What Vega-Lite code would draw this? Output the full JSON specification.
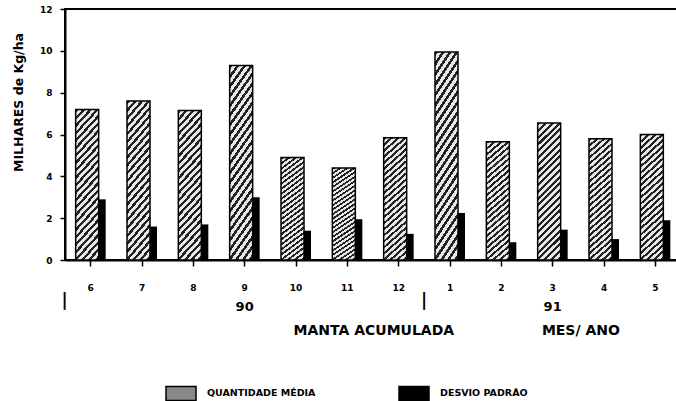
{
  "$schema": "https://vega.github.io/schema/vega-lite/v6.json",
  "width": 616,
  "height": 251,
  "autosize": {"type": "none"},
  "padding": {"left": 65, "top": 9, "right": 0, "bottom": 141},
  "background": "white",
  "config": {
    "view": {"stroke": "black", "strokeWidth": 2},
    "font": "DejaVu Sans",
    "axis": {"domainColor": "black", "tickColor": "black", "labelColor": "black", "titleColor": "black", "grid": false}
  },
  "data": {
    "values": [
      {"mes": "6", "serie": "QUANTIDADE MÉDIA", "valor": 7.2},
      {"mes": "7", "serie": "QUANTIDADE MÉDIA", "valor": 7.6},
      {"mes": "8", "serie": "QUANTIDADE MÉDIA", "valor": 7.15},
      {"mes": "9", "serie": "QUANTIDADE MÉDIA", "valor": 9.3},
      {"mes": "10", "serie": "QUANTIDADE MÉDIA", "valor": 4.9},
      {"mes": "11", "serie": "QUANTIDADE MÉDIA", "valor": 4.4},
      {"mes": "12", "serie": "QUANTIDADE MÉDIA", "valor": 5.85},
      {"mes": "1", "serie": "QUANTIDADE MÉDIA", "valor": 9.95},
      {"mes": "2", "serie": "QUANTIDADE MÉDIA", "valor": 5.65},
      {"mes": "3", "serie": "QUANTIDADE MÉDIA", "valor": 6.55},
      {"mes": "4", "serie": "QUANTIDADE MÉDIA", "valor": 5.8},
      {"mes": "5", "serie": "QUANTIDADE MÉDIA", "valor": 6.0},
      {"mes": "6", "serie": "DESVIO PADRÃO", "valor": 2.9},
      {"mes": "7", "serie": "DESVIO PADRÃO", "valor": 1.6},
      {"mes": "8", "serie": "DESVIO PADRÃO", "valor": 1.7},
      {"mes": "9", "serie": "DESVIO PADRÃO", "valor": 3.0},
      {"mes": "10", "serie": "DESVIO PADRÃO", "valor": 1.4},
      {"mes": "11", "serie": "DESVIO PADRÃO", "valor": 1.95},
      {"mes": "12", "serie": "DESVIO PADRÃO", "valor": 1.25},
      {"mes": "1", "serie": "DESVIO PADRÃO", "valor": 2.25},
      {"mes": "2", "serie": "DESVIO PADRÃO", "valor": 0.85},
      {"mes": "3", "serie": "DESVIO PADRÃO", "valor": 1.45},
      {"mes": "4", "serie": "DESVIO PADRÃO", "valor": 1.0},
      {"mes": "5", "serie": "DESVIO PADRÃO", "valor": 1.9}
    ]
  },
  "layer": [
    {
      "transform": [{"filter": "datum.serie == 'QUANTIDADE MÉDIA'"}],
      "mark": {"type": "bar", "width": 23, "xOffset": -3.5, "stroke": "black", "strokeWidth": 1.5,
        "fill": {"gradient": "linear", "x1": 0, "y1": 0, "x2": 0.2, "y2": 1.2, "stops": [
                {"offset": 0, "color": "#222"}, {"offset": 0.018, "color": "#222"}, {"offset": 0.018, "color": "#e8e8e8"}, {"offset": 0.04, "color": "#e8e8e8"},
                {"offset": 0.04, "color": "#222"}, {"offset": 0.058, "color": "#222"}, {"offset": 0.058, "color": "#e8e8e8"}, {"offset": 0.08, "color": "#e8e8e8"},
                {"offset": 0.08, "color": "#222"}, {"offset": 0.098, "color": "#222"}, {"offset": 0.098, "color": "#e8e8e8"}, {"offset": 0.12, "color": "#e8e8e8"},
                {"offset": 0.12, "color": "#222"}, {"offset": 0.138, "color": "#222"}, {"offset": 0.138, "color": "#e8e8e8"}, {"offset": 0.16, "color": "#e8e8e8"},
                {"offset": 0.16, "color": "#222"}, {"offset": 0.178, "color": "#222"}, {"offset": 0.178, "color": "#e8e8e8"}, {"offset": 0.2, "color": "#e8e8e8"},
                {"offset": 0.2, "color": "#222"}, {"offset": 0.218, "color": "#222"}, {"offset": 0.218, "color": "#e8e8e8"}, {"offset": 0.24, "color": "#e8e8e8"},
                {"offset": 0.24, "color": "#222"}, {"offset": 0.258, "color": "#222"}, {"offset": 0.258, "color": "#e8e8e8"}, {"offset": 0.28, "color": "#e8e8e8"},
                {"offset": 0.28, "color": "#222"}, {"offset": 0.298, "color": "#222"}, {"offset": 0.298, "color": "#e8e8e8"}, {"offset": 0.32, "color": "#e8e8e8"},
                {"offset": 0.32, "color": "#222"}, {"offset": 0.338, "color": "#222"}, {"offset": 0.338, "color": "#e8e8e8"}, {"offset": 0.36, "color": "#e8e8e8"},
                {"offset": 0.36, "color": "#222"}, {"offset": 0.378, "color": "#222"}, {"offset": 0.378, "color": "#e8e8e8"}, {"offset": 0.4, "color": "#e8e8e8"},
                {"offset": 0.4, "color": "#222"}, {"offset": 0.418, "color": "#222"}, {"offset": 0.418, "color": "#e8e8e8"}, {"offset": 0.44, "color": "#e8e8e8"},
                {"offset": 0.44, "color": "#222"}, {"offset": 0.458, "color": "#222"}, {"offset": 0.458, "color": "#e8e8e8"}, {"offset": 0.48, "color": "#e8e8e8"},
                {"offset": 0.48, "color": "#222"}, {"offset": 0.498, "color": "#222"}, {"offset": 0.498, "color": "#e8e8e8"}, {"offset": 0.52, "color": "#e8e8e8"},
                {"offset": 0.52, "color": "#222"}, {"offset": 0.538, "color": "#222"}, {"offset": 0.538, "color": "#e8e8e8"}, {"offset": 0.56, "color": "#e8e8e8"},
                {"offset": 0.56, "color": "#222"}, {"offset": 0.578, "color": "#222"}, {"offset": 0.578, "color": "#e8e8e8"}, {"offset": 0.6, "color": "#e8e8e8"},
                {"offset": 0.6, "color": "#222"}, {"offset": 0.618, "color": "#222"}, {"offset": 0.618, "color": "#e8e8e8"}, {"offset": 0.64, "color": "#e8e8e8"},
                {"offset": 0.64, "color": "#222"}, {"offset": 0.658, "color": "#222"}, {"offset": 0.658, "color": "#e8e8e8"}, {"offset": 0.68, "color": "#e8e8e8"},
                {"offset": 0.68, "color": "#222"}, {"offset": 0.698, "color": "#222"}, {"offset": 0.698, "color": "#e8e8e8"}, {"offset": 0.72, "color": "#e8e8e8"},
                {"offset": 0.72, "color": "#222"}, {"offset": 0.738, "color": "#222"}, {"offset": 0.738, "color": "#e8e8e8"}, {"offset": 0.76, "color": "#e8e8e8"},
                {"offset": 0.76, "color": "#222"}, {"offset": 0.778, "color": "#222"}, {"offset": 0.778, "color": "#e8e8e8"}, {"offset": 0.8, "color": "#e8e8e8"},
                {"offset": 0.8, "color": "#222"}, {"offset": 0.818, "color": "#222"}, {"offset": 0.818, "color": "#e8e8e8"}, {"offset": 0.84, "color": "#e8e8e8"},
                {"offset": 0.84, "color": "#222"}, {"offset": 0.858, "color": "#222"}, {"offset": 0.858, "color": "#e8e8e8"}, {"offset": 0.88, "color": "#e8e8e8"},
                {"offset": 0.88, "color": "#222"}, {"offset": 0.898, "color": "#222"}, {"offset": 0.898, "color": "#e8e8e8"}, {"offset": 0.92, "color": "#e8e8e8"},
                {"offset": 0.92, "color": "#222"}, {"offset": 0.938, "color": "#222"}, {"offset": 0.938, "color": "#e8e8e8"}, {"offset": 0.96, "color": "#e8e8e8"},
                {"offset": 0.96, "color": "#222"}, {"offset": 0.978, "color": "#222"}, {"offset": 0.978, "color": "#e8e8e8"}, {"offset": 1, "color": "#e8e8e8"}
              ]}},
      "encoding": {
        "x": {
          "field": "mes", "type": "nominal",
          "sort": ["6", "7", "8", "9", "10", "11", "12", "1", "2", "3", "4", "5"],
          "scale": {"paddingInner": 0, "paddingOuter": 0},
          "axis": {"orient": "bottom", "title": null, "domainWidth": 2, "tickSize": 6, "tickWidth": 1.5, "labelFontSize": 9, "labelFontWeight": "bold", "labelBaseline": "middle", "labelPadding": 21, "labelAngle": 0}
        },
        "y": {
          "field": "valor", "type": "quantitative",
          "scale": {"domain": [0, 12], "nice": false},
          "axis": {"values": [0, 2, 4, 6, 8, 10, 12], "domainWidth": 2, "tickSize": 5, "tickWidth": 1.5, "labelFontSize": 9, "labelFontWeight": "bold", "labelPadding": 8, "title": "MILHARES de Kg/ha", "titleFontSize": 12.5, "titleFontWeight": "bold", "titleAngle": -90, "titleX": -47, "titleY": 93, "titleAlign": "center", "titleBaseline": "middle"}
        }
      }
    },
    {
      "transform": [{"filter": "datum.serie == 'DESVIO PADRÃO'"}],
      "mark": {"type": "bar", "width": 7, "xOffset": 11.5},
      "encoding": {
        "x": {
          "field": "mes", "type": "nominal",
          "sort": ["6", "7", "8", "9", "10", "11", "12", "1", "2", "3", "4", "5"],
          "axis": {
            "orient": "bottom", "domain": false, "ticks": false, "tickSize": 0,
            "values": ["6", "9", "1", "3"],
            "labelExpr": "datum.value == '6' || datum.value == '1' ? '|' : (datum.value == '9' ? '90' : '91')",
            "labelAngle": 0,
            "labelBaseline": "middle",
            "labelFontWeight": "bold",
            "labelFontSize": {"condition": {"test": "datum.value == '6' || datum.value == '1'", "value": 17}, "value": 13},
            "labelOffset": {"condition": {"test": "datum.value == '6' || datum.value == '1'", "value": -26}, "value": 0},
            "labelPadding": {"condition": {"test": "datum.value == '6' || datum.value == '1'", "value": 40}, "value": 46},
            "title": "MANTA ACUMULADA\u00a0\u00a0\u00a0\u00a0\u00a0\u00a0\u00a0\u00a0\u00a0\u00a0\u00a0\u00a0\u00a0\u00a0\u00a0\u00a0\u00a0\u00a0MES/ ANO",
            "titleFontSize": 14, "titleFontWeight": "bold",
            "titleAnchor": "start", "titleAlign": "left", "titleBaseline": "middle",
            "titleX": 228, "titleY": 70
          }
        },
        "y": {"field": "valor", "type": "quantitative"},
        "color": {
          "field": "serie", "type": "nominal",
          "scale": {"domain": ["QUANTIDADE MÉDIA", "DESVIO PADRÃO"], "range": ["#888888", "black"]},
          "legend": {"orient": "none", "legendX": 100, "legendY": 368, "direction": "horizontal", "title": null, "symbolType": "M-1,-0.47H1V0.47H-1Z", "symbolSize": 900, "symbolStrokeColor": "black", "symbolStrokeWidth": 1.5, "labelFontSize": 9.5, "labelFontWeight": "bold", "labelColor": "black", "labelOffset": 10, "columnPadding": 80, "labelLimit": 250}
        }
      }
    }
  ],
  "resolve": {"axis": {"x": "independent"}}
}
